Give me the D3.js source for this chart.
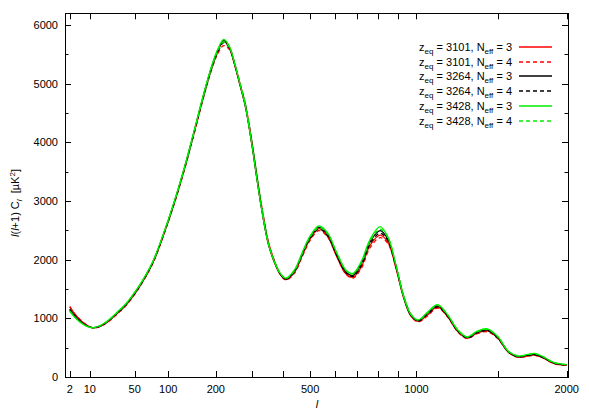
<!DOCTYPE html>
<html>
<head>
<meta charset="utf-8">
<script src="https://cdn.jsdelivr.net/npm/d3@7"></script>
<style>
  body { margin: 0; background: #fff; }
  svg { display: block; font-family: "Liberation Sans", Arial, sans-serif; }
</style>
</head>
<body>
<svg class="cl" width="589" height="412"></svg>
<script>
const ells = [2,3,4,6,8,10,13,17,
  22,30,40,50,60,75,90,110,
  130,150,170,190,205,220,235,250,
  265,280,300,315,330,350,372,390,
  410,440,470,500,535,570,610,650,
  680,720,760,810,850,890,930,970,
  1010,1060,1120,1180,1240,1300,1360,1430,
  1500,1570,1640,1700,1760,1820,1900,2000]

// l(l+1) C_l in uK^2
const zeq3101n3 = [1200,1105,1040,952,895,855,840,868,
  935,1068,1228,1418,1620,1950,2370,2950,
  3550,4170,4770,5275,5555,5720,5605,5300,
  4955,4600,3925,3355,2835,2280,1935,1750,
  1660,1780,2075,2355,2530,2400,2045,1755,
  1700,1880,2240,2420,2290,1860,1360,1040,
  950,1050,1195,1025,780,662,745,785,
  658,425,340,358,375,328,233,200]
const zeq3101n4 = [1200,1108,1042,953,895,853,837,865,
  930,1062,1222,1410,1612,1940,2356,2934,
  3530,4145,4740,5240,5515,5650,5580,5310,
  4980,4640,3970,3400,2880,2320,1960,1755,
  1655,1765,2055,2330,2495,2390,2050,1750,
  1685,1855,2200,2375,2270,1870,1380,1050,
  940,1035,1175,1020,775,655,735,770,
  650,425,335,350,368,325,230,198]
const zeq3264n3 = [1150,1070,1010,930,880,850,842,875,
  945,1080,1240,1430,1630,1960,2380,2960,
  3560,4180,4780,5290,5570,5740,5620,5310,
  4960,4600,3920,3350,2830,2280,1940,1760,
  1670,1800,2100,2380,2550,2430,2080,1790,
  1730,1940,2300,2495,2340,1890,1370,1050,
  962,1080,1212,1040,790,672,760,801,
  670,430,346,370,387,335,240,205]
const zeq3264n4 = [1155,1075,1013,932,881,850,841,873,
  942,1076,1236,1425,1624,1952,2370,2946,
  3540,4155,4755,5260,5540,5700,5605,5320,
  4985,4635,3965,3395,2875,2315,1960,1765,
  1668,1788,2083,2360,2520,2410,2065,1775,
  1715,1905,2265,2450,2320,1900,1390,1065,
  955,1065,1195,1040,790,665,750,790,
  665,435,343,362,378,330,235,201]
const zeq3428n3 = [1120,1045,990,915,872,848,845,882,
  955,1092,1252,1442,1642,1972,2392,2972,
  3572,4195,4795,5305,5590,5755,5635,5325,
  4970,4605,3920,3345,2825,2280,1945,1770,
  1685,1820,2125,2405,2575,2460,2110,1820,
  1765,1975,2340,2565,2380,1910,1380,1065,
  975,1100,1235,1060,805,685,778,820,
  685,440,358,382,402,346,248,212]
const zeq3428n4 = [1125,1050,993,917,873,848,844,880,
  952,1088,1248,1438,1636,1964,2382,2958,
  3552,4170,4770,5280,5560,5715,5620,5330,
  4990,4640,3960,3390,2870,2310,1960,1770,
  1680,1805,2105,2385,2545,2445,2110,1815,
  1755,1950,2310,2520,2375,1925,1400,1075,
  970,1085,1220,1060,805,680,768,810,
  685,445,355,375,395,345,247,210]

const zeqLabels = ["3101","3101","3264","3264","3428","3428"]
const neffLabels = ["3","4","3","4","3","4"]
const seriesValues = [zeq3101n3, zeq3101n4, zeq3264n3, zeq3264n4, zeq3428n3, zeq3428n4]
const colors = ["#ff0000","#ff0000","#000000","#000000","#00ee00","#00ee00"]

const xTicks = [2,10,50,100,200,300,400,500,600,700,800,900,1000,1500,2000]
const xTickLabels = {2:"2",10:"10",50:"50",100:"100",200:"200",500:"500",1000:"1000",2000:"2000"}
const yTicks = [0,1000,2000,3000,4000,5000,6000]
const yMinorTicks = [500,1500,2500,3500,4500,5500]

const svg = d3.select("svg.cl")
const plotLeft = 65, plotRight = 568, plotTop = 13.3, plotBottom = 377

// the l axis is a square-root axis
const x = d3.scaleSqrt().domain([1, 2010]).range([plotLeft, plotRight])
const y = d3.scaleLinear().domain([0, 6200]).range([plotBottom, plotTop])

svg.append("clipPath").attr("id", "plotclip")
  .append("rect").attr("x", plotLeft).attr("y", plotTop)
  .attr("width", plotRight - plotLeft).attr("height", plotBottom - plotTop)

// ticks, mirrored on all four sides
const tickGroup = svg.append("g").attr("stroke", "#000").attr("stroke-width", 1)
xTicks.forEach(t => {
  const px = Math.round(x(t)) + 0.5
  tickGroup.append("line").attr("x1", px).attr("x2", px).attr("y1", plotBottom).attr("y2", plotBottom - 6)
  tickGroup.append("line").attr("x1", px).attr("x2", px).attr("y1", plotTop).attr("y2", plotTop + 6)
})
yTicks.forEach(t => {
  const py = Math.round(y(t)) + 0.5
  tickGroup.append("line").attr("x1", plotLeft).attr("x2", plotLeft + 6).attr("y1", py).attr("y2", py)
  tickGroup.append("line").attr("x1", plotRight).attr("x2", plotRight - 6).attr("y1", py).attr("y2", py)
})
yMinorTicks.forEach(t => {
  const py = Math.round(y(t)) + 0.5
  tickGroup.append("line").attr("x1", plotLeft).attr("x2", plotLeft + 3.5).attr("y1", py).attr("y2", py)
  tickGroup.append("line").attr("x1", plotRight).attr("x2", plotRight - 3.5).attr("y1", py).attr("y2", py)
})

svg.append("rect")
  .attr("x", plotLeft + 0.5).attr("y", Math.round(plotTop) + 0.5)
  .attr("width", plotRight - plotLeft).attr("height", plotBottom - Math.round(plotTop))
  .attr("fill", "none").attr("stroke", "#000").attr("stroke-width", 1)

// tick labels
svg.append("g").selectAll("text")
  .data(xTicks.filter(t => xTickLabels[t]))
  .enter().append("text")
  .attr("x", d => x(d)).attr("y", plotBottom + 16)
  .attr("text-anchor", "middle").attr("font-size", 11)
  .text(d => xTickLabels[d])

svg.append("g").selectAll("text")
  .data(yTicks)
  .enter().append("text")
  .attr("x", plotLeft - 7).attr("y", d => y(d) + 4)
  .attr("text-anchor", "end").attr("font-size", 11)
  .text(d => d)

// axis titles
svg.append("text").attr("x", 317).attr("y", 408)
  .attr("text-anchor", "middle").attr("font-size", 11)
  .attr("font-style", "italic").text("l")

const yTitle = svg.append("text")
  .attr("transform", "translate(19,203) rotate(-90)")
  .attr("text-anchor", "middle").attr("font-size", 11)
yTitle.append("tspan").attr("font-style", "italic").text("l")
yTitle.append("tspan").text("(")
yTitle.append("tspan").attr("font-style", "italic").text("l")
yTitle.append("tspan").text("+1) C")
yTitle.append("tspan").attr("font-style", "italic").attr("font-size", 8).attr("dy", 3).text("l")
yTitle.append("tspan").attr("dy", -3).text("\u00a0\u00a0[\u00b5K")
yTitle.append("tspan").attr("font-size", 8).attr("dy", -4).text("2")
yTitle.append("tspan").attr("dy", 4).text("]")

// curves
const line = d3.line()
  .x(d => x(d[0]))
  .y(d => y(d[1]))
  .curve(d3.curveCatmullRom.alpha(0.5))

const curveGroup = svg.append("g").attr("clip-path", "url(#plotclip)")
seriesValues.forEach((vals, i) => {
  curveGroup.append("path")
    .datum(d3.zip(ells, vals))
    .attr("d", line)
    .attr("fill", "none")
    .attr("stroke", colors[i])
    .attr("stroke-width", 1.3)
    .attr("stroke-dasharray", neffLabels[i] === "4" ? "4,3" : null)
})

// legend
const legend = svg.append("g")
seriesValues.forEach((vals, i) => {
  const cy = 46.7 + i * 14.85
  const t = legend.append("text")
    .attr("x", 512).attr("y", cy + 4)
    .attr("text-anchor", "end").attr("font-size", 11)
  t.append("tspan").text("z")
  t.append("tspan").attr("font-size", 8).attr("dy", 3).text("eq")
  t.append("tspan").attr("dy", -3).text(" = " + zeqLabels[i] + ", N")
  t.append("tspan").attr("font-size", 8).attr("dy", 3).text("eff")
  t.append("tspan").attr("dy", -3).text(" = " + neffLabels[i])
  legend.append("line")
    .attr("x1", 519).attr("x2", 552)
    .attr("y1", Math.round(cy)).attr("y2", Math.round(cy))
    .attr("stroke", colors[i]).attr("stroke-width", 1.5)
    .attr("stroke-dasharray", neffLabels[i] === "4" ? "4,3" : null)
})
</script>
</body>
</html>
